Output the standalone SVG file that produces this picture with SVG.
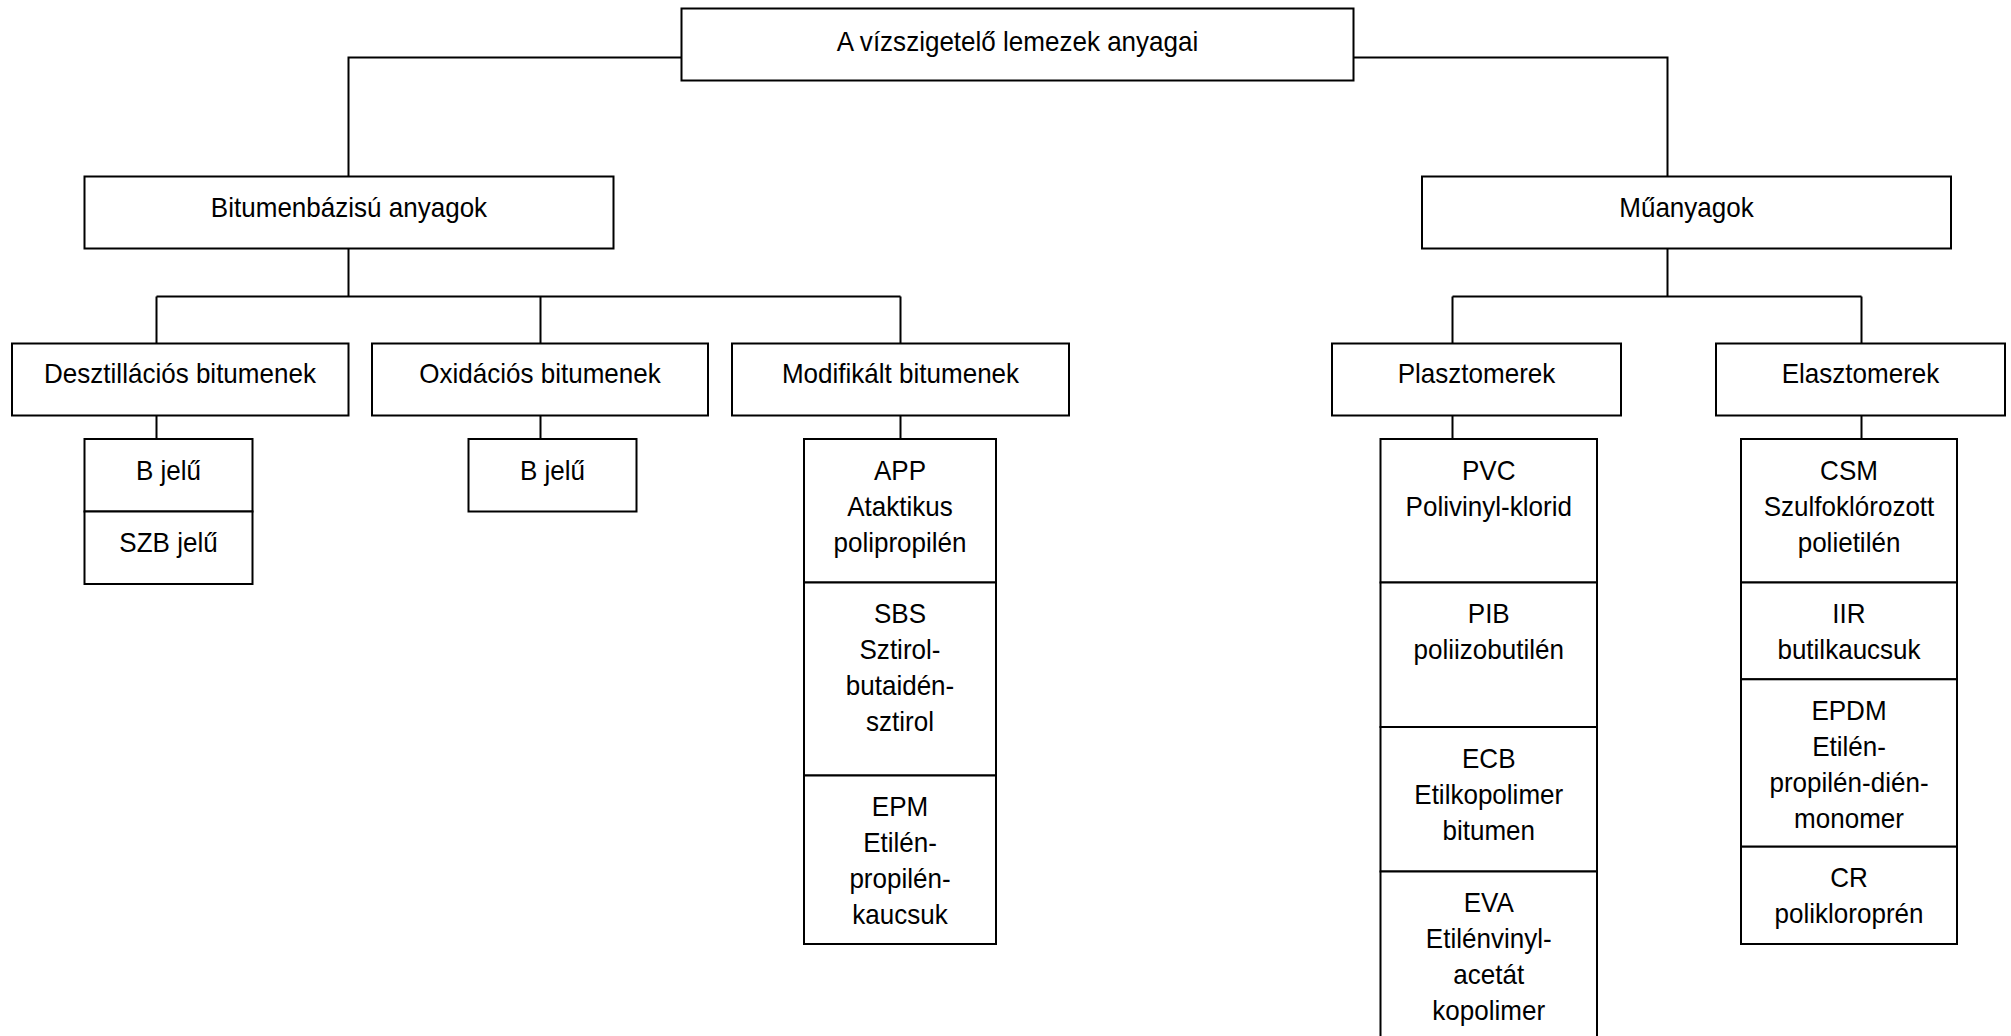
<svg xmlns="http://www.w3.org/2000/svg" width="2011" height="1036" viewBox="0 0 2011 1036">
<style>
.b{fill:#fff;stroke:#000;stroke-width:2}
.c{fill:none;stroke:#000;stroke-width:2}
.t{font-family:"Liberation Sans",Arial,sans-serif;font-size:28px;text-anchor:middle;fill:#000}
</style>
<rect x="0" y="0" width="2011" height="1036" fill="#fff"/>
<g id="connectors">
<path class="c" d="M681.5 57.5H348.5V176.5"/>
<path class="c" d="M1353.5 57.5H1667.5V176.5"/>
<path class="c" d="M348.5 248.5V296.5M156.5 296.5H900.5M156.5 296.5V343.5M540.5 296.5V343.5M900.5 296.5V343.5"/>
<path class="c" d="M1667.5 248.5V296.5M1452.5 296.5H1861.5M1452.5 296.5V343.5M1861.5 296.5V343.5"/>
<path class="c" d="M156.5 415.5V439M540.5 415.5V439M900.5 415.5V439M1452.5 415.5V439M1861.5 415.5V439"/>
</g>
<g id="root"><rect class="b" x="681.5" y="8.5" width="672" height="72"/><text class="t" transform="translate(1017.5,0) scale(0.93,1)" x="0" y="51.5">A vízszigetelő lemezek anyagai</text></g>
<g id="bitumen"><rect class="b" x="84.5" y="176.5" width="529" height="72"/><text class="t" transform="translate(349,0) scale(0.93,1)" x="0" y="217.5">Bitumenbázisú anyagok</text></g>
<g id="muanyag"><rect class="b" x="1422" y="176.5" width="529" height="72"/><text class="t" transform="translate(1686.5,0) scale(0.93,1)" x="0" y="217.5">Műanyagok</text></g>
<g id="deszt"><rect class="b" x="12" y="343.5" width="336.5" height="72"/><text class="t" transform="translate(180,0) scale(0.93,1)" x="0" y="383.5">Desztillációs bitumenek</text></g>
<g id="oxid"><rect class="b" x="372" y="343.5" width="336" height="72"/><text class="t" transform="translate(540,0) scale(0.93,1)" x="0" y="383.5">Oxidációs bitumenek</text></g>
<g id="modif"><rect class="b" x="732" y="343.5" width="337" height="72"/><text class="t" transform="translate(900.5,0) scale(0.93,1)" x="0" y="383.5">Modifikált bitumenek</text></g>
<g id="plaszt"><rect class="b" x="1332" y="343.5" width="289" height="72"/><text class="t" transform="translate(1476.5,0) scale(0.93,1)" x="0" y="383.5">Plasztomerek</text></g>
<g id="elaszt"><rect class="b" x="1716" y="343.5" width="289" height="72"/><text class="t" transform="translate(1860.5,0) scale(0.93,1)" x="0" y="383.5">Elasztomerek</text></g>
<g id="d1"><rect class="b" x="84.5" y="439" width="168" height="72.5"/><text class="t" transform="translate(168.5,0) scale(0.93,1)" x="0" y="480">B jelű</text></g>
<g id="d2"><rect class="b" x="84.5" y="511.5" width="168" height="72.5"/><text class="t" transform="translate(168.5,0) scale(0.93,1)" x="0" y="552.5">SZB jelű</text></g>
<g id="o1"><rect class="b" x="468.5" y="439" width="168" height="72.5"/><text class="t" transform="translate(552.5,0) scale(0.93,1)" x="0" y="480">B jelű</text></g>
<g id="m1"><rect class="b" x="804" y="439" width="192" height="143.5"/><text class="t" transform="translate(900,0) scale(0.93,1)" x="0" y="480">APP<tspan x="0" dy="36">Ataktikus</tspan><tspan x="0" dy="36">polipropilén</tspan></text></g>
<g id="m2"><rect class="b" x="804" y="582.5" width="192" height="193"/><text class="t" transform="translate(900,0) scale(0.93,1)" x="0" y="623.5">SBS<tspan x="0" dy="36">Sztirol-</tspan><tspan x="0" dy="36">butaidén-</tspan><tspan x="0" dy="36">sztirol</tspan></text></g>
<g id="m3"><rect class="b" x="804" y="775.5" width="192" height="168.5"/><text class="t" transform="translate(900,0) scale(0.93,1)" x="0" y="816">EPM<tspan x="0" dy="36">Etilén-</tspan><tspan x="0" dy="36">propilén-</tspan><tspan x="0" dy="36">kaucsuk</tspan></text></g>
<g id="p1"><rect class="b" x="1380.5" y="439" width="216.5" height="143.5"/><text class="t" transform="translate(1488.75,0) scale(0.93,1)" x="0" y="480">PVC<tspan x="0" dy="36">Polivinyl-klorid</tspan></text></g>
<g id="p2"><rect class="b" x="1380.5" y="582.5" width="216.5" height="144.5"/><text class="t" transform="translate(1488.75,0) scale(0.93,1)" x="0" y="623.5">PIB<tspan x="0" dy="36">poliizobutilén</tspan></text></g>
<g id="p3"><rect class="b" x="1380.5" y="727" width="216.5" height="144.5"/><text class="t" transform="translate(1488.75,0) scale(0.93,1)" x="0" y="768">ECB<tspan x="0" dy="36">Etilkopolimer</tspan><tspan x="0" dy="36">bitumen</tspan></text></g>
<g id="p4"><rect class="b" x="1380.5" y="871.5" width="216.5" height="180"/><text class="t" transform="translate(1488.75,0) scale(0.93,1)" x="0" y="912.5">EVA<tspan x="0" dy="36">Etilénvinyl-</tspan><tspan x="0" dy="36">acetát</tspan><tspan x="0" dy="36">kopolimer</tspan></text></g>
<g id="e1"><rect class="b" x="1741" y="439" width="216" height="143.5"/><text class="t" transform="translate(1849,0) scale(0.93,1)" x="0" y="480">CSM<tspan x="0" dy="36">Szulfoklórozott</tspan><tspan x="0" dy="36">polietilén</tspan></text></g>
<g id="e2"><rect class="b" x="1741" y="582.5" width="216" height="96.8"/><text class="t" transform="translate(1849,0) scale(0.93,1)" x="0" y="623.5">IIR<tspan x="0" dy="36">butilkaucsuk</tspan></text></g>
<g id="e3"><rect class="b" x="1741" y="679.3" width="216" height="167.4"/><text class="t" transform="translate(1849,0) scale(0.93,1)" x="0" y="720.5">EPDM<tspan x="0" dy="36">Etilén-</tspan><tspan x="0" dy="36">propilén-dién-</tspan><tspan x="0" dy="36">monomer</tspan></text></g>
<g id="e4"><rect class="b" x="1741" y="846.7" width="216" height="97.3"/><text class="t" transform="translate(1849,0) scale(0.93,1)" x="0" y="887.5">CR<tspan x="0" dy="36">polikloroprén</tspan></text></g>
</svg>
